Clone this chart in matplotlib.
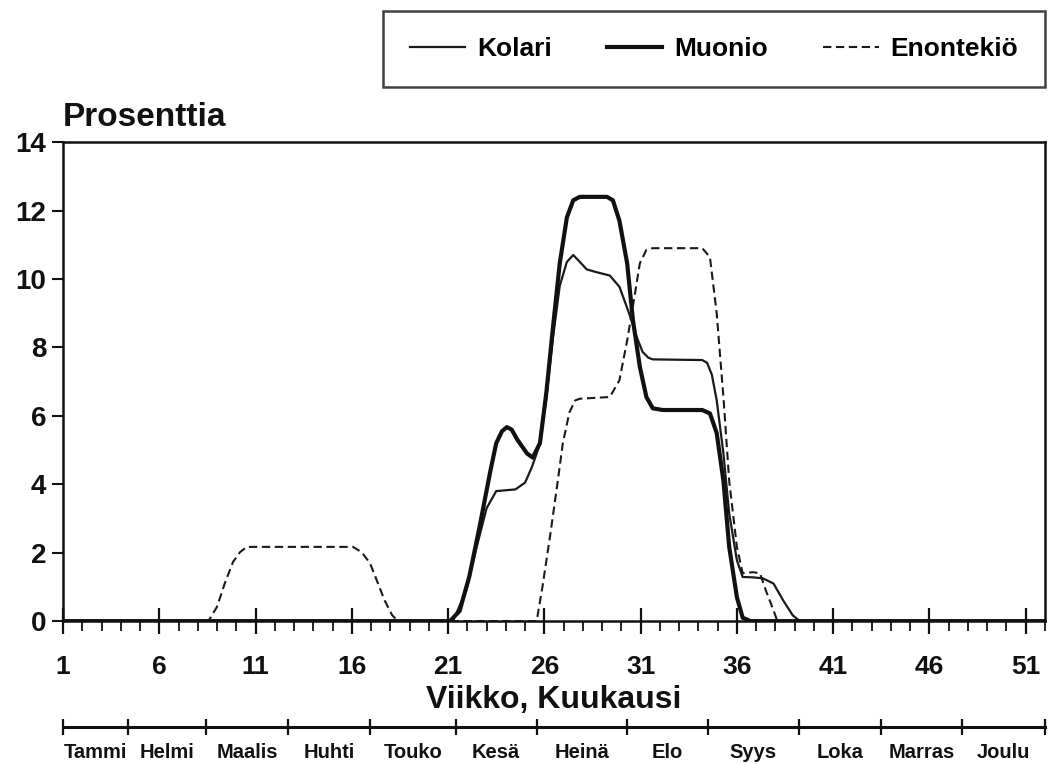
import matplotlib
matplotlib.use("Agg")
import matplotlib.pyplot as plt
from matplotlib.ticker import FixedLocator, NullFormatter

plt.rcParams["font.family"] = ["Liberation Sans", "DejaVu Sans"]
plt.rcParams["font.weight"] = "bold"

# Weekly share of the year's total (%)
weeks_kolari = [1, 21.25, 21.95, 22.5, 23.0, 23.5, 24.5, 25.0, 25.35, 25.6, 25.8,
                26.1, 26.45, 26.8, 27.17, 27.5, 27.84, 28.2, 28.7, 29.4, 29.9,
                30.4, 30.8, 31.1, 31.4, 31.63, 34.2, 34.45, 34.7, 34.95, 35.3, 35.6, 36.0,
                36.3, 36.83, 37.35, 37.9, 38.4, 38.9, 39.27, 52]
kolari = [0, 0, 0.9, 2.2, 3.3, 3.8, 3.85, 4.05, 4.5, 4.9, 5.3,
          6.5, 8.3, 9.8, 10.5, 10.7, 10.5, 10.28, 10.2, 10.1, 9.77,
          9.0, 8.3, 7.87, 7.7, 7.65, 7.63, 7.55, 7.2, 6.46, 4.9, 3.15, 1.78,
          1.29, 1.28, 1.25, 1.1, 0.61, 0.17, 0, 0]

weeks_muonio = [1, 21.1, 21.6, 22.1, 22.65, 23.2, 23.5, 23.8, 24.05, 24.3, 24.6, 25.1, 25.4,
                25.77, 26.1, 26.45, 26.8, 27.17, 27.5, 27.84, 29.25, 29.56, 29.9,
                30.3, 30.6, 30.96, 31.3, 31.63, 32.15, 34.2, 34.6, 34.95, 35.3,
                35.6, 36.0, 36.3, 36.7, 52]
muonio = [0, 0, 0.3, 1.3, 2.8, 4.4, 5.2, 5.55, 5.67, 5.6, 5.3, 4.9, 4.78,
          5.2, 6.66, 8.6, 10.46, 11.8, 12.3, 12.4, 12.4, 12.3, 11.7,
          10.46, 8.8, 7.43, 6.55, 6.22, 6.17, 6.17, 6.07, 5.5, 4.1,
          2.17, 0.7, 0.1, 0, 0]

weeks_enon = [1, 8.55, 9.0, 9.4, 9.83, 10.2, 10.55, 16.06, 16.5, 16.94, 17.36,
              17.7, 18.1, 18.4, 25.6, 25.9, 26.3, 26.65, 26.96, 27.3, 27.6,
              27.84, 29.4, 29.9, 30.3, 30.6, 30.96, 31.3, 31.63, 34.2, 34.6,
              34.95, 35.3, 35.6, 36.0, 36.3, 36.83, 37.2, 37.5, 37.9, 38.1, 52]
enon = [0, 0, 0.42, 1.1, 1.73, 2.02, 2.17, 2.17, 2.02, 1.7, 1.1,
        0.61, 0.17, 0, 0, 1.0, 2.5, 3.9, 5.2, 6.1, 6.45,
        6.5, 6.55, 7.04, 8.2, 9.2, 10.46, 10.85, 10.9, 10.9, 10.64,
        9.0, 6.55, 4.1, 2.17, 1.4, 1.43, 1.4, 0.9, 0.32, 0, 0]

week_ticks = list(range(1, 52, 5))
y_ticks = list(range(0, 15, 2))

# month boundaries on the week scale, as drawn in the figure
month_edges = [1.0, 4.37, 8.42, 12.68, 16.94, 21.4, 25.6, 30.3, 34.5, 39.2, 43.5, 47.7, 52.0]
months = ["Tammi", "Helmi", "Maalis", "Huhti", "Touko", "Kesä",
          "Heinä", "Elo", "Syys", "Loka", "Marras", "Joulu"]

fig = plt.figure(figsize=(10.5, 7.64), dpi=100)
ax = fig.add_axes([0.06, 0.187, 0.9352, 0.627])

ax.plot(weeks_kolari, kolari, color="#1a1a1a", lw=1.6, label="Kolari", solid_joinstyle="round")
ax.plot(weeks_muonio, muonio, color="#111111", lw=3.0, label="Muonio", solid_joinstyle="round")
ax.plot(weeks_enon, enon, color="#1a1a1a", lw=1.5, dashes=(4, 2.2), label="Enontekiö")

ax.set_xlim(1, 52)
ax.set_ylim(0, 14)
ax.set_xticks(week_ticks)
ax.set_xticklabels([str(w) for w in week_ticks])
ax.xaxis.set_minor_locator(FixedLocator([w for w in range(2, 53) if w not in week_ticks]))
ax.xaxis.set_minor_formatter(NullFormatter())
ax.set_yticks(y_ticks)
ax.set_yticklabels([str(v) for v in y_ticks])

for s in ax.spines.values():
    s.set_linewidth(1.8)
    s.set_color("#111111")

ax.tick_params(axis="x", which="major", direction="inout", length=19, width=1.6,
               pad=15, labelsize=19, colors="#111111")
ax.tick_params(axis="x", which="minor", direction="out", length=7, width=1.3, colors="#111111")
ax.tick_params(axis="y", direction="out", length=8, width=1.5, pad=4,
               labelsize=20, colors="#111111")

fig.text(0.06, 0.835, "Prosenttia", fontsize=24, fontweight="bold", ha="left",
         va="baseline", color="#111111")
fig.text(0.527, 0.0838, "Viikko, Kuukausi", fontsize=23, fontweight="bold",
         ha="center", va="center", color="#111111")

# month scale under the week axis
axm = fig.add_axes([0.06, 0.048, 0.9352, 0.0001])
axm.set_xlim(1, 52)
axm.set_ylim(0, 1)
for name in ["top", "left", "right"]:
    axm.spines[name].set_visible(False)
axm.spines["bottom"].set_linewidth(2.2)
axm.spines["bottom"].set_color("#111111")
axm.set_yticks([])
axm.set_xticks(month_edges)
axm.set_xticklabels([])
axm.xaxis.set_minor_locator(FixedLocator(
    [(a + b) / 2 for a, b in zip(month_edges[:-1], month_edges[1:])]))
axm.set_xticklabels(months, minor=True)
axm.tick_params(axis="x", which="major", direction="inout", length=12, width=1.6, colors="#111111")
axm.tick_params(axis="x", which="minor", length=0, pad=11, labelsize=14.5, colors="#111111")

leg = ax.legend(loc="center", bbox_to_anchor=(0.68, 0.936), bbox_transform=fig.transFigure,
                ncol=3, fontsize=19, frameon=True, fancybox=False, handlelength=2.1,
                handletextpad=0.45, columnspacing=2.1, borderpad=1.0)
leg.get_frame().set_edgecolor("#111111")
leg.get_frame().set_linewidth(1.8)
for t in leg.get_texts():
    t.set_fontweight("bold")

fig.savefig("out.png", dpi=100, facecolor="white")
